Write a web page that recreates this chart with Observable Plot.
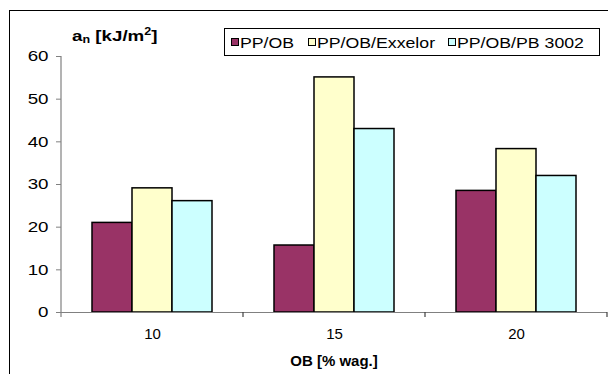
<!DOCTYPE html>
<html><head><meta charset="utf-8">
<script src="https://cdn.jsdelivr.net/npm/d3@7"></script>
<script src="https://cdn.jsdelivr.net/npm/@observablehq/plot@0.6"></script>
<style>
body{margin:0;background:#fff;}
#wrap{position:relative;width:609px;height:374px;overflow:hidden;font-family:"Liberation Sans",Arial,sans-serif;color:#000;}
#frame{position:absolute;left:9px;top:10px;width:599px;height:400px;border-top:1px solid #000;border-left:1px solid #000;box-sizing:border-box;}
#chart{position:absolute;left:0;top:0;}
#title{position:absolute;left:72px;top:28px;font-weight:bold;font-size:15px;line-height:16px;white-space:nowrap;transform:scaleX(1.25);transform-origin:left center;}
#title sub{font-size:10px;vertical-align:-2px;line-height:0;}
#title sup{font-size:10px;vertical-align:6px;line-height:0;}
#legend{position:absolute;left:224px;top:28px;width:376px;height:28px;border:1px solid #000;box-sizing:border-box;background:#fff;font-size:15px;white-space:nowrap;}
#legend .sw{position:absolute;top:9px;width:6px;height:6px;border:1.5px solid #000;}
#legend .lt{position:absolute;top:5px;line-height:17px;transform:scaleX(1.18);transform-origin:left center;}
#xlabel{position:absolute;left:61px;width:546px;top:352px;text-align:center;font-weight:bold;font-size:15px;}
</style>
</head><body>
<div id="wrap">
  <div id="frame"></div>
  <div id="chart"></div>
  <div id="title">a<sub>n</sub> [kJ/m<sup>2</sup>]</div>
  <div id="legend"></div>
  <div id="xlabel"></div>
</div>
<script>
const groups = ["10", "15", "20"];
const series = ["PP/OB", "PP/OB/Exxelor", "PP/OB/PB 3002"];
const ppob = [21.0, 15.7, 28.5];
const exxelor = [29.1, 55.1, 38.3];
const pb3002 = [26.1, 43.0, 32.0];
const colors = ["#993366", "#FFFFCC", "#CCFFFF"];
const yTicks = [0, 10, 20, 30, 40, 50, 60];
const xTitle = "OB [% wag.]";

const valuesBySeries = [ppob, exxelor, pb3002];
const data = groups.flatMap((g, i) => series.map((s, j) => ({group: g, series: s, value: valuesBySeries[j][i]})));

const plot = Plot.plot({
  width: 609,
  height: 374,
  marginLeft: 61,
  marginRight: 2,
  marginTop: 56,
  marginBottom: 62,
  style: {fontFamily: "'Liberation Sans', Arial, sans-serif", fontSize: "15px", background: "transparent", color: "#000", overflow: "visible"},
  fx: {domain: groups, padding: 0, label: null, tickSize: 0, tickPadding: 16, axis: "bottom"},
  x: {domain: series, paddingInner: 0, paddingOuter: 0.755, axis: null},
  y: {domain: [0, 60], ticks: yTicks, tickSize: 5, tickPadding: 8, label: null},
  color: {domain: series, range: colors},
  marks: [
    Plot.barY(data, {fx: "group", x: "series", y: "value", fill: "series", stroke: "#000", strokeWidth: 1.5}),
    Plot.ruleY([0], {stroke: "#808080", strokeWidth: 1.2})
  ]
});
document.getElementById("chart").appendChild(plot);

// axis lines and boundary ticks from the plot's own scales
const svg = d3.select(plot);
const ys = plot.scale("y");
const fxs = plot.scale("fx");
const y0 = ys.apply(0), yTop = ys.apply(60);
const x0 = fxs.range[0];
svg.append("line").attr("x1", x0).attr("x2", x0).attr("y1", yTop).attr("y2", y0 + 5)
  .attr("stroke", "#808080").attr("stroke-width", 1.2);
groups.forEach(g => {
  const xb = fxs.apply(g) + fxs.bandwidth;
  svg.append("line").attr("x1", xb).attr("x2", xb).attr("y1", y0).attr("y2", y0 + 5)
    .attr("stroke", "#404040").attr("stroke-width", 1.2);
});
svg.selectAll("[aria-label='y-axis'] line, [aria-label='y-axis tick'] path").attr("stroke", "#808080");
// widen the y tick labels like the reference's stretched lettering
svg.selectAll("[aria-label='y-axis'] text, [aria-label='y-axis tick label'] text").each(function() {
  const len = this.getComputedTextLength();
  if (len > 0) {
    this.setAttribute("textLength", (len * 1.25).toFixed(2));
    this.setAttribute("lengthAdjust", "spacingAndGlyphs");
  }
});

// legend
const legend = d3.select("#legend");
const swLeft = [6, 83, 223];
series.forEach((s, i) => {
  legend.append("div").attr("class", "sw").style("left", swLeft[i] + "px").style("background", colors[i]);
  legend.append("span").attr("class", "lt").style("left", (swLeft[i] + 9) + "px").text(s);
});
document.getElementById("xlabel").textContent = xTitle;
</script>
</body></html>
